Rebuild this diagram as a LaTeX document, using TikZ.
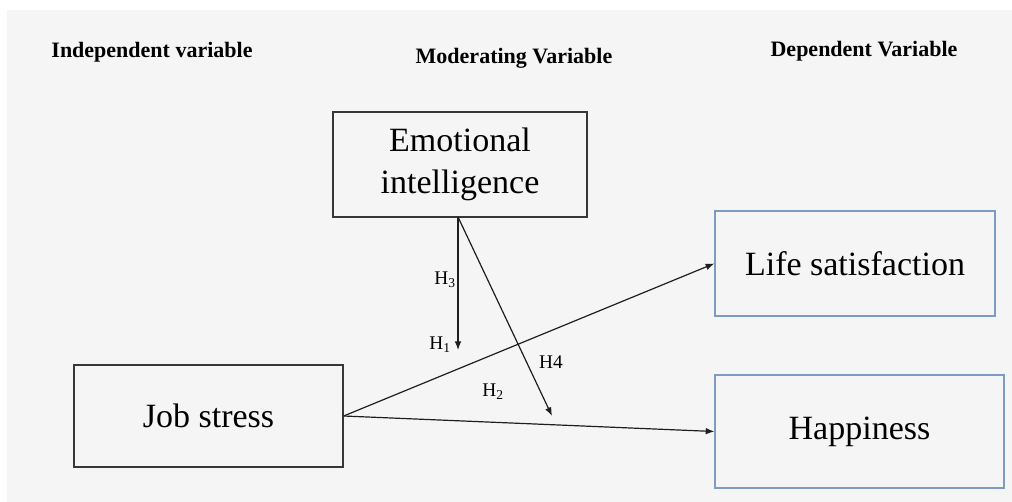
\documentclass[tikz,border=0pt]{standalone}
\usepackage{fontspec}
\setmainfont{Liberation Serif}
\usetikzlibrary{arrows.meta}
\definecolor{bggray}{RGB}{245,245,245}
\definecolor{edgedark}{RGB}{55,55,55}
\definecolor{edgeblue}{RGB}{125,155,195}
\definecolor{linedark}{RGB}{30,30,30}
\tikzset{
  boxdark/.style={draw=edgedark, line width=1pt, fill=bggray, inner sep=0pt, align=center, font=\fontsize{25.5}{28}\selectfont},
  boxblue/.style={draw=edgeblue, line width=1pt, fill=bggray, inner sep=0pt, align=center, font=\fontsize{25.5}{28}\selectfont},
  header/.style={font=\bfseries\fontsize{16.5}{18}\selectfont, inner sep=0pt},
  hlabel/.style={font=\fontsize{14.5}{16}\selectfont, inner sep=0pt},
  arr/.style={draw=linedark, line width=0.9pt, -{Latex[length=6.5pt,width=5pt]}}
}
\begin{document}
\begin{tikzpicture}[x=0.75pt,y=-0.75pt]
\useasboundingbox (0,0) rectangle (1012,502);
\fill[white] (0,0) rectangle (1012,502);
\fill[bggray] (7,10) rectangle (1012,502);

\node[header] (hind) at (152,52) {Independent variable};
\node[header] (hmod) at (514,58) {Moderating Variable};
\node[header] (hdep) at (864,51) {Dependent Variable};

\node[boxdark, minimum width=254*0.75pt, minimum height=105*0.75pt] (EI) at (460,164.5) {Emotional\\[4pt]intelligence};
\node[boxdark, minimum width=269*0.75pt, minimum height=102*0.75pt] (JS) at (208.5,416) {\raisebox{-3pt}{Job stress}};
\node[boxblue, minimum width=280*0.75pt, minimum height=105*0.75pt] (LS) at (855,263.5) {Life satisfaction};
\node[boxblue, minimum width=289*0.75pt, minimum height=113*0.75pt] (HP) at (859.5,431.5) {\raisebox{-4pt}{Happiness}};

\coordinate (h1end) at (458,350);
\coordinate (h4end) at (552,416);
\coordinate (eistart) at (458,217);

\draw[arr] (eistart) -- (h1end);
\draw[arr] (eistart) -- (h4end);
\draw[arr] (JS.east) -- (LS.west);
\draw[arr] (JS.east) -- (HP.west);

\node[hlabel] (H3) at (445,280) {H\textsubscript{3}};
\node[hlabel] (H1) at (440,345) {H\textsubscript{1}};
\node[hlabel] (H4) at (551,362) {H4};
\node[hlabel] (H2) at (493,392) {H\textsubscript{2}};
\end{tikzpicture}
\end{document}
